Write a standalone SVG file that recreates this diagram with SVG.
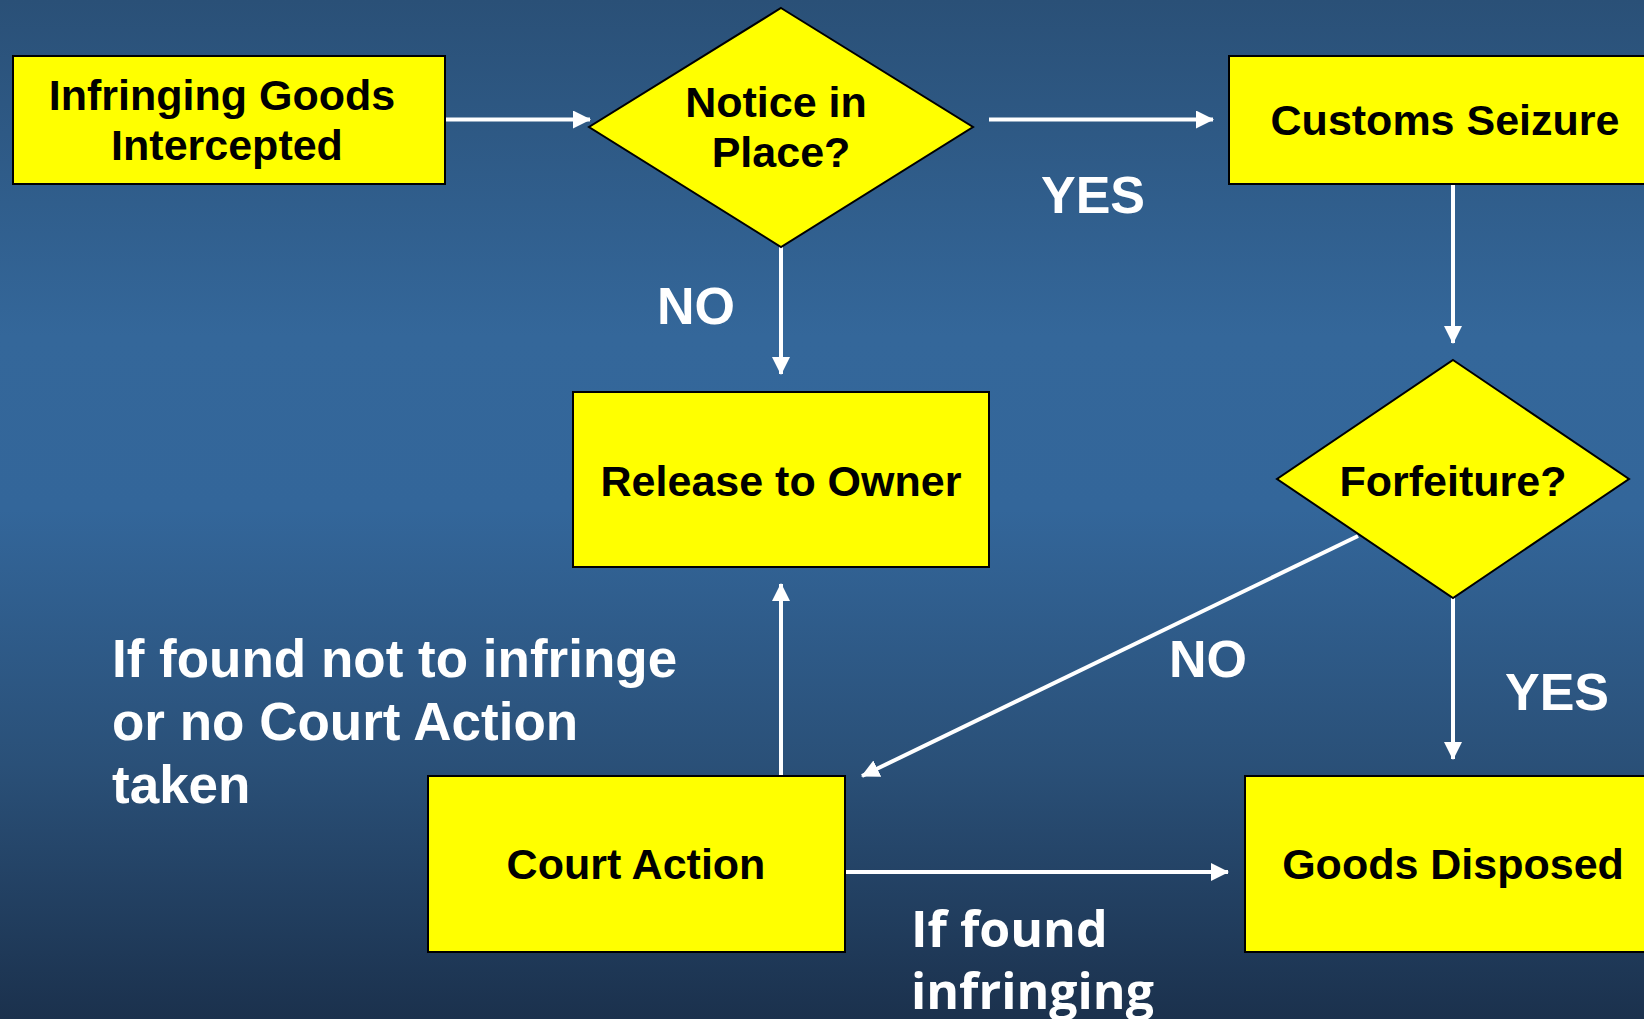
<svg xmlns="http://www.w3.org/2000/svg" width="1644" height="1019" viewBox="0 0 1644 1019">
  <defs>
    <linearGradient id="bg" x1="0" y1="0" x2="0" y2="1">
      <stop offset="0" stop-color="#2a5077"/>
      <stop offset="0.33" stop-color="#34679a"/>
      <stop offset="0.5" stop-color="#33669a"/>
      <stop offset="0.75" stop-color="#2a5078"/>
      <stop offset="1" stop-color="#1b314d"/>
    </linearGradient>
    <marker id="ah" markerUnits="userSpaceOnUse" markerWidth="18" markerHeight="18" viewBox="0 0 18 18" refX="17" refY="9" orient="auto">
      <path d="M0,0 L18,9 L0,18 Z" fill="#ffffff"/>
    </marker>
    <style>
      .box { fill: #ffff00; stroke: #000000; stroke-width: 2; }
      .nt { font-family: "Liberation Sans", Arial, sans-serif; font-weight: bold; font-size: 43px; fill: #000000; text-anchor: middle; }
      .lbl { font-family: "Liberation Sans", Arial, sans-serif; font-weight: bold; font-size: 52px; fill: #ffffff; }
      .lbl3 { font-family: "Liberation Sans", Arial, sans-serif; font-weight: bold; font-size: 53px; fill: #ffffff; }
      .lbl2 { font-family: "Open Sans", "Noto Sans", sans-serif; font-weight: bold; font-size: 50px; fill: #ffffff; }
      .cn { stroke: #ffffff; stroke-width: 4; fill: none; marker-end: url(#ah); }
    </style>
  </defs>
  <rect x="0" y="0" width="1644" height="1019" fill="url(#bg)"/>

  <g id="connectors">
    <line class="cn" x1="445" y1="119.5" x2="590" y2="119.5"/>
    <line class="cn" x1="989" y1="119.5" x2="1213" y2="119.5"/>
    <line class="cn" x1="781" y1="247" x2="781" y2="374"/>
    <line class="cn" x1="1453" y1="184" x2="1453" y2="343"/>
    <line class="cn" x1="1358" y1="536" x2="862" y2="776"/>
    <line class="cn" x1="1453" y1="598" x2="1453" y2="759"/>
    <line class="cn" x1="781" y1="776" x2="781" y2="584"/>
    <line class="cn" x1="845" y1="872" x2="1228" y2="872"/>
  </g>

  <g id="node-intercepted">
    <rect class="box" x="13" y="56" width="432" height="128"/>
    <text class="nt" x="222" y="110">Infringing Goods</text>
    <text class="nt" x="227" y="160">Intercepted</text>
  </g>
  <g id="node-notice">
    <polygon class="box" points="781,8 973,127 781,247 589,127"/>
    <text class="nt" x="776" y="117">Notice in</text>
    <text class="nt" x="781" y="167">Place?</text>
  </g>
  <g id="node-customs">
    <rect class="box" x="1229" y="56" width="430" height="128"/>
    <text class="nt" x="1445" y="135">Customs Seizure</text>
  </g>
  <g id="node-release">
    <rect class="box" x="573" y="392" width="416" height="175"/>
    <text class="nt" x="781" y="496">Release to Owner</text>
  </g>
  <g id="node-forfeiture">
    <polygon class="box" points="1453,360 1629,479 1453,598 1277,479"/>
    <text class="nt" x="1453" y="496">Forfeiture?</text>
  </g>
  <g id="node-court">
    <rect class="box" x="428" y="776" width="417" height="176"/>
    <text class="nt" x="636" y="879">Court Action</text>
  </g>
  <g id="node-disposed">
    <rect class="box" x="1245" y="776" width="414" height="176"/>
    <text class="nt" x="1453" y="879">Goods Disposed</text>
  </g>

  <g id="labels">
    <text class="lbl" x="1041" y="213">YES</text>
    <text class="lbl" x="657" y="324">NO</text>
    <text class="lbl" x="1169" y="677">NO</text>
    <text class="lbl" x="1505" y="710">YES</text>
    <text class="lbl3" x="112" y="677">If found not to infringe</text>
    <text class="lbl3" x="112" y="740">or no Court Action</text>
    <text class="lbl3" x="112" y="803">taken</text>
    <text class="lbl2" x="911" y="947">If found</text>
    <text class="lbl2" x="911" y="1009">infringing</text>
  </g>
</svg>
